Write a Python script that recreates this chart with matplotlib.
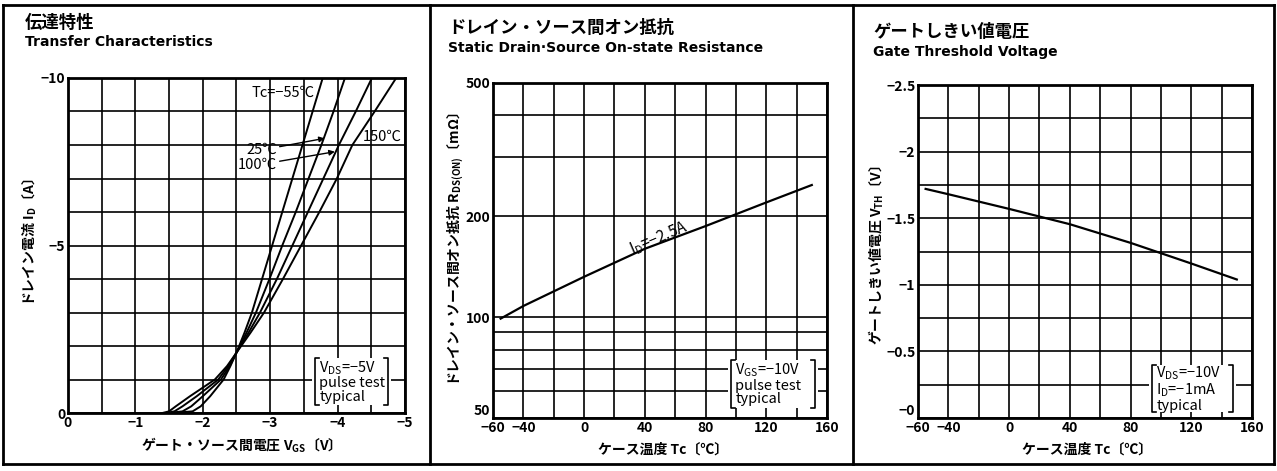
import matplotlib.pyplot as plt
from matplotlib.lines import Line2D
from matplotlib.patches import Rectangle
from matplotlib.ticker import FixedLocator, FixedFormatter, NullLocator

plt.rcParams['font.family'] = ['Noto Sans CJK JP', 'DejaVu Sans']
plt.rcParams['mathtext.fontset'] = 'custom'
plt.rcParams['mathtext.rm'] = 'Noto Sans CJK JP'
plt.rcParams['mathtext.bf'] = 'Noto Sans CJK JP:bold'

# 伝達特性  (Vgs for each drain current, per case temperature)
id_a = [0, -0.05, -0.2, -0.5, -1.0, -1.4, -1.8, -2.4, -3, -4, -5, -6, -7, -8, -9, -10]
vgs_m55 = [-1.55, -1.85, -1.97, -2.11, -2.31, -2.41, -2.5, -2.62, -2.73, -2.88, -3.03, -3.18, -3.33, -3.48, -3.63, -3.78]
vgs_25 = [-1.5, -1.7, -1.83, -2.0, -2.27, -2.4, -2.5, -2.65, -2.79, -2.99, -3.18, -3.38, -3.57, -3.76, -3.94, -4.11]
vgs_100 = [-1.45, -1.58, -1.7, -1.91, -2.23, -2.38, -2.5, -2.68, -2.85, -3.1, -3.33, -3.56, -3.79, -4.02, -4.27, -4.51]
vgs_150 = [-1.4, -1.5, -1.6, -1.81, -2.18, -2.36, -2.5, -2.71, -2.91, -3.19, -3.46, -3.73, -3.99, -4.22, -4.55, -4.87]

# ドレイン・ソース間オン抵抗
tc_r = [-55, -40, 0, 40, 80, 120, 150]
rds_on = [99, 108, 132, 160, 187, 220, 248]

# ゲートしきい値電圧
tc_v = [-55, -40, 0, 40, 80, 120, 150]
vth = [-1.72, -1.68, -1.57, -1.455, -1.315, -1.16, -1.04]

# ticks
vgs_grid = [0, -0.5, -1, -1.5, -2, -2.5, -3, -3.5, -4, -4.5, -5]
vgs_labels = ['0', '', '−1', '', '−2', '', '−3', '', '−4', '', '−5']
id_grid = [0, -1, -2, -3, -4, -5, -6, -7, -8, -9, -10]
id_labels = ['0', '', '', '', '', '−5', '', '', '', '', '−10']
tc_grid = [-60, -40, -20, 0, 20, 40, 60, 80, 100, 120, 140, 160]
tc_labels = ['−60', '−40', '', '0', '', '40', '', '80', '', '120', '', '160']
r_grid = [50, 60, 70, 80, 90, 100, 200, 300, 400, 500]
r_labels = ['50', '', '', '', '', '100', '200', '', '', '500']
v_grid = [0, -0.25, -0.5, -0.75, -1, -1.25, -1.5, -1.75, -2, -2.25, -2.5]
v_labels = ['−0', '', '−0.5', '', '−1', '', '−1.5', '', '−2', '', '−2.5']

fig = plt.figure(figsize=(12.77, 4.71), dpi=100)
ax1 = fig.add_axes([0.0532, 0.1231, 0.2639, 0.7113])
ax2 = fig.add_axes([0.3861, 0.1125, 0.2615, 0.7113])
ax3 = fig.add_axes([0.7189, 0.1125, 0.2615, 0.7070])


def style(ax, xg, xl, yg, yl):
    ax.xaxis.set_major_locator(FixedLocator(xg))
    ax.xaxis.set_major_formatter(FixedFormatter(xl))
    ax.yaxis.set_major_locator(FixedLocator(yg))
    ax.yaxis.set_major_formatter(FixedFormatter(yl))
    ax.xaxis.set_minor_locator(NullLocator())
    ax.yaxis.set_minor_locator(NullLocator())
    ax.tick_params(length=0, labelsize=10, pad=2)
    for lab in ax.get_xticklabels() + ax.get_yticklabels():
        lab.set_fontweight('bold')
    ax.grid(True, color='black', linewidth=1.2)
    for s in ax.spines.values():
        s.set_linewidth(2)


def bracket_note(ax, x0, x1, y0, y1, text):
    ax.add_patch(Rectangle((x0 - 0.01, y0), x1 - x0 + 0.02, y1 - y0, transform=ax.transAxes,
                           facecolor='white', edgecolor='none', zorder=3))
    h = 0.012
    ax.plot([x0 + h, x0, x0, x0 + h], [y1, y1, y0, y0], transform=ax.transAxes,
            color='black', lw=1.2, zorder=4, clip_on=False)
    ax.plot([x1 - h, x1, x1, x1 - h], [y1, y1, y0, y0], transform=ax.transAxes,
            color='black', lw=1.2, zorder=4, clip_on=False)
    ax.text(x0 + 0.013, (y0 + y1) / 2, text, transform=ax.transAxes, ha='left', va='center',
            fontsize=10.5, linespacing=0.95, zorder=5)


# 1: Transfer Characteristics
for v in [vgs_m55, vgs_25, vgs_100, vgs_150]:
    ax1.plot(v, id_a, color='black', lw=1.4, zorder=2)
ax1.set_xlim(0, -5)
ax1.set_ylim(0, -10)
style(ax1, vgs_grid, vgs_labels, id_grid, id_labels)
ax1.text(-3.66, -9.55, 'Tc=−55℃', ha='right', va='center', fontsize=10.5)
ax1.text(-4.38, -8.24, '150℃', ha='left', va='center', fontsize=10.5)
ax1.annotate('25℃', xy=(-3.81, -8.2), xytext=(-3.1, -7.85), ha='right', va='center', fontsize=10.5,
             arrowprops=dict(arrowstyle='-|>', color='black', lw=1.0, mutation_scale=8,
                             shrinkA=0, shrinkB=0))
ax1.annotate('100℃', xy=(-3.96, -7.8), xytext=(-3.1, -7.4), ha='right', va='center', fontsize=10.5,
             arrowprops=dict(arrowstyle='-|>', color='black', lw=1.0, mutation_scale=8,
                             shrinkA=0, shrinkB=0))
bracket_note(ax1, 0.733, 0.950, 0.024, 0.164, 'V$_\\mathrm{DS}$=−5V\npulse test\ntypical')

# 2: Static Drain-Source On-state Resistance
ax2.plot(tc_r, rds_on, color='black', lw=1.6, zorder=2)
ax2.set_yscale('log')
ax2.set_xlim(-60, 160)
ax2.set_ylim(50, 500)
style(ax2, tc_grid, tc_labels, r_grid, r_labels)
ax2.get_yticklabels()[0].set_verticalalignment('bottom')
ax2.text(49, 172, 'I$_\\mathrm{D}$=−2.5A', rotation=23, ha='center', va='center', fontsize=11,
         rotation_mode='anchor')
bracket_note(ax2, 0.713, 0.964, 0.030, 0.173, 'V$_\\mathrm{GS}$=−10V\npulse test\ntypical')

# 3: Gate Threshold Voltage
ax3.plot(tc_v, vth, color='black', lw=1.6, zorder=2)
ax3.set_xlim(-60, 160)
ax3.set_ylim(0, -2.5)
style(ax3, tc_grid, tc_labels, v_grid, v_labels)
ax3.get_yticklabels()[0].set_verticalalignment('bottom')
bracket_note(ax3, 0.701, 0.943, 0.018, 0.159, 'V$_\\mathrm{DS}$=−10V\nI$_\\mathrm{D}$=−1mA\ntypical')

# titles and labels
en = dict(fontsize=10, fontweight='bold', va='center', family='DejaVu Sans')
jp = dict(fontsize=12.5, fontweight='bold', va='center')
fig.text(0.0196, 0.952, '伝達特性', **jp)
fig.text(0.0196, 0.911, 'Transfer Characteristics', **en)
fig.text(0.351, 0.940, 'ドレイン・ソース間オン抵抗', **jp)
fig.text(0.351, 0.898, 'Static Drain·Source On-state Resistance', **en)
fig.text(0.6836, 0.933, 'ゲートしきい値電圧', **jp)
fig.text(0.6836, 0.889, 'Gate Threshold Voltage', **en)

lab = dict(ha='center', va='center', fontsize=10, fontweight='bold')
fig.text(0.0235, 0.486, 'ドレイン電流 I$_\\mathbf{D}$〔A〕', rotation=90, **lab)
fig.text(0.3565, 0.471, 'ドレイン・ソース間オン抵抗 R$_\\mathbf{DS(ON)}$〔mΩ〕', rotation=90, **lab)
fig.text(0.6860, 0.459, 'ゲートしきい値電圧 V$_\\mathbf{TH}$〔V〕', rotation=90, **lab)
fig.text(0.1856, 0.055, 'ゲート・ソース間電圧 V$_\\mathbf{GS}$〔V〕', **lab)
fig.text(0.519, 0.045, 'ケース温度 Tc〔℃〕', **lab)
fig.text(0.851, 0.045, 'ケース温度 Tc〔℃〕', **lab)

# panel frames
for xs, ys in [([0.0023, 0.9977], [0.9894, 0.9894]), ([0.0023, 0.9977], [0.0149, 0.0149]),
               ([0.0023, 0.0023], [0.0149, 0.9894]), ([0.9977, 0.9977], [0.0149, 0.9894]),
               ([0.3367, 0.3367], [0.0149, 0.9894]), ([0.668, 0.668], [0.0149, 0.9894])]:
    fig.add_artist(Line2D(xs, ys, transform=fig.transFigure, color='black', lw=2))

fig.savefig('out.png', dpi=100)
